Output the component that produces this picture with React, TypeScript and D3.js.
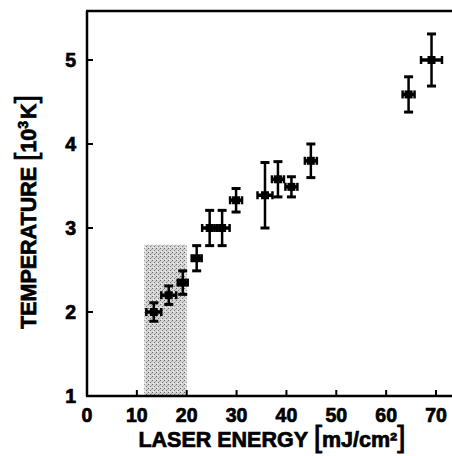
import React, { useEffect, useRef } from "react";
import * as d3 from "d3";

const W = 452;
const H = 456;
const LEFT = 87;
const TOP = 11;
const BOTTOM = 396;

// laser energy (mJ/cm2) and temperature (10^3 K) with error bars
const energy = [13.4, 16.4, 19.2, 22.0, 24.6, 27.1, 29.9, 35.7, 38.3, 41.0, 44.9, 64.5, 69.1];
const energyErr = [1.5, 1.5, 1.0, 1.0, 1.5, 1.5, 1.2, 1.5, 1.2, 1.2, 1.2, 1.2, 2.1];
const temp = [2.0, 2.2, 2.35, 2.64, 3.0, 3.0, 3.33, 3.39, 3.58, 3.49, 3.8, 4.59, 5.0];
const tempErr = [0.11, 0.11, 0.14, 0.15, 0.21, 0.21, 0.14, 0.39, 0.21, 0.12, 0.2, 0.21, 0.31];

const xTicks = [0, 10, 20, 30, 40, 50, 60, 70];
const yTicks = [1, 2, 3, 4, 5];

// shaded energy band
const band = { x0: 11.5, x1: 20, yTop: 2.8 };

const FONT = "'Liberation Sans', Arial, Helvetica, sans-serif";

export default function App() {
  const ref = useRef<SVGSVGElement>(null);

  useEffect(() => {
    const svg = d3.select(ref.current);
    svg.selectAll("*").remove();

    const x = d3.scaleLinear().domain([0, 70]).range([LEFT, 436]);
    const y = d3.scaleLinear().domain([1, 5]).range([BOTTOM, 60]);

    // stipple pattern for the band
    const pat = svg
      .append("defs")
      .append("pattern")
      .attr("id", "stipple")
      .attr("width", 4)
      .attr("height", 4)
      .attr("patternUnits", "userSpaceOnUse");
    pat.append("rect").attr("width", 4).attr("height", 4).attr("fill", "#d4d4d4");
    pat.append("rect").attr("x", 0).attr("y", 0).attr("width", 1).attr("height", 1).attr("fill", "#666");
    pat.append("rect").attr("x", 2).attr("y", 2).attr("width", 1).attr("height", 1).attr("fill", "#777");
    pat.append("rect").attr("x", 3).attr("y", 1).attr("width", 1).attr("height", 1).attr("fill", "#aaa");
    pat.append("rect").attr("x", 1).attr("y", 3).attr("width", 1).attr("height", 1).attr("fill", "#f4f4f4");

    svg
      .append("rect")
      .attr("x", x(band.x0))
      .attr("y", y(band.yTop))
      .attr("width", x(band.x1) - x(band.x0))
      .attr("height", BOTTOM - y(band.yTop))
      .attr("fill", "url(#stipple)");

    // frame
    const frame = svg.append("g").attr("stroke", "#000").attr("stroke-width", 2.5).attr("fill", "none");
    frame.append("line").attr("x1", LEFT).attr("x2", LEFT).attr("y1", TOP).attr("y2", BOTTOM);
    frame.append("line").attr("x1", LEFT - 1).attr("x2", W).attr("y1", TOP).attr("y2", TOP);
    frame.append("line").attr("x1", LEFT - 1).attr("x2", W).attr("y1", BOTTOM).attr("y2", BOTTOM);

    // ticks
    frame
      .selectAll(".xt")
      .data(xTicks.slice(1))
      .join("line")
      .attr("x1", (d) => x(d))
      .attr("x2", (d) => x(d))
      .attr("y1", BOTTOM)
      .attr("y2", BOTTOM - 6)
      .attr("stroke-width", 2);
    frame
      .selectAll(".yt")
      .data(yTicks.slice(1))
      .join("line")
      .attr("x1", LEFT)
      .attr("x2", LEFT + 6)
      .attr("y1", (d) => y(d))
      .attr("y2", (d) => y(d))
      .attr("stroke-width", 2);

    const bold = (sel: any, size: number) =>
      sel
        .attr("font-family", FONT)
        .attr("font-weight", "bold")
        .attr("font-size", size)
        .attr("stroke", "#000")
        .attr("stroke-width", 0.7);

    // tick labels
    bold(
      svg
        .append("g")
        .selectAll("text")
        .data(xTicks)
        .join("text")
        .attr("x", (d) => x(d))
        .attr("y", 422)
        .attr("text-anchor", "middle"),
      19.5
    ).text((d: number) => d);
    bold(
      svg
        .append("g")
        .selectAll("text")
        .data(yTicks)
        .join("text")
        .attr("x", 76)
        .attr("y", (d) => y(d) + 7)
        .attr("text-anchor", "end"),
      19.5
    ).text((d: number) => d);

    // axis titles
    const xl = bold(
      svg.append("text").attr("x", 272).attr("y", 447).attr("text-anchor", "middle"),
      21.5
    );
    xl.append("tspan").text("LASER ENERGY ");
    xl.append("tspan").attr("font-size", 30).attr("font-weight", "normal").attr("stroke-width", 0.8).text("[");
    xl.append("tspan").text("mJ/cm²");
    xl.append("tspan").attr("font-size", 30).attr("font-weight", "normal").attr("stroke-width", 0.8).text("]");

    const yl = bold(
      svg.append("text").attr("transform", "translate(36,212) rotate(-90)").attr("text-anchor", "middle"),
      21.5
    );
    yl.append("tspan").text("TEMPERATURE ");
    yl.append("tspan").attr("font-size", 30).attr("font-weight", "normal").attr("stroke-width", 0.8).text("[");
    yl.append("tspan").text("10");
    yl.append("tspan").attr("font-size", 14).attr("dy", -8).text("3");
    yl.append("tspan").attr("dy", 8).attr("dx", 2).text("K");
    yl.append("tspan").attr("font-size", 30).attr("font-weight", "normal").attr("stroke-width", 0.8).text("]");

    // data points with error bars
    const pts = energy.map((e, i) => ({ e, t: temp[i], ex: energyErr[i], ty: tempErr[i] }));
    const g = svg.append("g").attr("stroke", "#000").attr("fill", "#000");
    const pg = g.selectAll("g").data(pts).join("g");
    pg.append("line")
      .attr("x1", (d) => x(d.e))
      .attr("x2", (d) => x(d.e))
      .attr("y1", (d) => y(d.t + d.ty))
      .attr("y2", (d) => y(d.t - d.ty))
      .attr("stroke-width", 2.5);
    pg.append("line")
      .attr("x1", (d) => x(d.e - d.ex))
      .attr("x2", (d) => x(d.e + d.ex))
      .attr("y1", (d) => y(d.t))
      .attr("y2", (d) => y(d.t))
      .attr("stroke-width", 3.5);
    [1, -1].forEach((s) => {
      pg.append("line")
        .attr("x1", (d) => x(d.e) - 4.5)
        .attr("x2", (d) => x(d.e) + 4.5)
        .attr("y1", (d) => y(d.t + s * d.ty))
        .attr("y2", (d) => y(d.t + s * d.ty))
        .attr("stroke-width", 3);
      pg.append("line")
        .attr("x1", (d) => x(d.e + s * d.ex))
        .attr("x2", (d) => x(d.e + s * d.ex))
        .attr("y1", (d) => y(d.t) - 4)
        .attr("y2", (d) => y(d.t) + 4)
        .attr("stroke-width", 2.5);
    });
    pg.append("path")
      .attr("transform", (d) => `translate(${x(d.e)},${y(d.t)})`)
      .attr("d", d3.symbol(d3.symbolSquare, 64)())
      .attr("stroke", "none");
  }, []);

  return (
    <svg
      ref={ref}
      width={W}
      height={H}
      style={{ position: "absolute", left: 0, top: 0, background: "#fff" }}
    />
  );
}
